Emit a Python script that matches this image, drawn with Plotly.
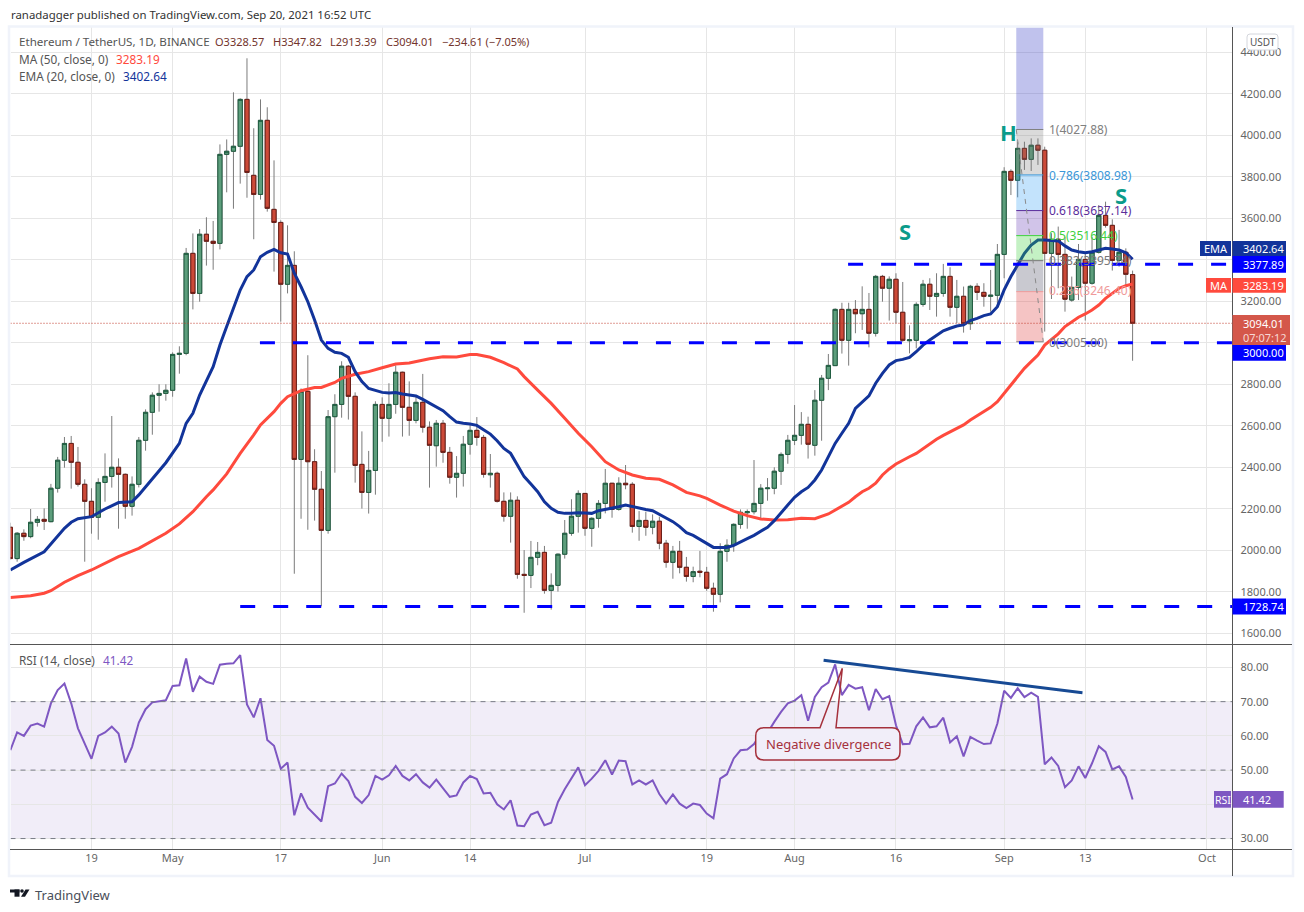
import pandas as pd
import plotly.graph_objects as go

W, H = 1304, 912
FONT = "Noto Sans"

# daily candles, Apr 7 -> Sep 20 2021
START = "2021-04-07"
opens = [2111, 1960, 2082, 2066, 2135, 2149, 2138, 2299, 2434, 2515,
         2424, 2318, 2236, 2159, 2327, 2356, 2400, 2366, 2212, 2318,
         2530, 2665, 2747, 2756, 2771, 2944, 2949, 3431, 3238, 3523,
         3489, 3479, 3908, 3923, 3947, 4173, 3807, 3715, 4072, 3643,
         3580, 3282, 3373, 2438, 2766, 2427, 2294, 2096, 2644, 2703,
         2887, 2742, 2414, 2279, 2385, 2703, 2636, 2703, 2858, 2689,
         2626, 2713, 2593, 2504, 2612, 2472, 2352, 2371, 2511, 2578,
         2544, 2364, 2371, 2236, 2164, 2241, 1884, 1879, 1966, 1990,
         1807, 1831, 1981, 2082, 2164, 2274, 2106, 2154, 2226, 2323,
         2197, 2323, 2318, 2115, 2144, 2111, 2140, 2034, 1942, 1995,
         1918, 1874, 1899, 1894, 1817, 1788, 1995, 2024, 2125, 2181,
         2186, 2226, 2297, 2299, 2381, 2462, 2530, 2554, 2607, 2506,
         2723, 2829, 2890, 3161, 3012, 3161, 3140, 3161, 3046, 3320,
         3263, 3306, 3147, 3010, 3012, 3185, 3282, 3224, 3238, 3320,
         3171, 3224, 3092, 3272, 3243, 3224, 3229, 3426, 3826, 3783,
         3937, 3884, 3952, 3928, 3431, 3499, 3426, 3206, 3267, 3402,
         3287, 3436, 3614, 3566, 3397, 3436, 3328.57]
highs = [2133, 2088, 2101, 2199, 2165, 2202, 2320, 2450, 2546, 2551,
         2498, 2342, 2299, 2347, 2467, 2647, 2443, 2370, 2356, 2546,
         2679, 2761, 2800, 2800, 2954, 2983, 3457, 3527, 3548, 3605,
         3587, 3956, 3980, 4207, 4178, 4371, 4034, 4173, 4135, 3879,
         3590, 3566, 3441, 2780, 2940, 2487, 2382, 2676, 2752, 2911,
         2893, 2761, 2573, 2479, 2718, 2737, 2805, 2891, 2861, 2814,
         2747, 2850, 2621, 2628, 2628, 2498, 2454, 2551, 2612, 2642,
         2556, 2464, 2379, 2279, 2279, 2260, 2001, 2045, 2040, 2021,
         1889, 1985, 2146, 2246, 2289, 2276, 2159, 2242, 2392, 2325,
         2352, 2411, 2328, 2189, 2186, 2173, 2162, 2050, 2021, 2045,
         1968, 1921, 1997, 1920, 1844, 2034, 2053, 2130, 2197, 2197,
         2435, 2319, 2348, 2400, 2472, 2556, 2700, 2666, 2644, 2772,
         2845, 2946, 3166, 3193, 3193, 3206, 3272, 3240, 3327, 3327,
         3320, 3335, 3293, 3084, 3195, 3303, 3311, 3335, 3380, 3364,
         3303, 3271, 3279, 3287, 3287, 3351, 3476, 3846, 3836, 3969,
         3969, 3985, 3985, 3945, 3528, 3560, 3511, 3319, 3476, 3431,
         3511, 3664, 3680, 3595, 3544, 3455, 3347.82]
lows = [1955, 1945, 2046, 2058, 2114, 2098, 2135, 2278, 2398, 2297,
        2307, 1945, 2080, 2051, 2234, 2302, 2104, 2152, 2167, 2303,
        2480, 2557, 2668, 2721, 2740, 2851, 2940, 3161, 3198, 3372,
        3352, 3450, 3725, 3646, 3767, 3699, 3499, 3690, 3632, 3343,
        3102, 3238, 1887, 2152, 2099, 2143, 1730, 2080, 2374, 2639,
        2630, 2326, 2201, 2177, 2268, 2523, 2548, 2658, 2548, 2552,
        2612, 2567, 2302, 2403, 2422, 2321, 2254, 2307, 2461, 2504,
        2350, 2302, 2230, 2138, 2037, 1863, 1699, 1818, 1928, 1791,
        1714, 1801, 1960, 2070, 2085, 2070, 2017, 2109, 2178, 2157,
        2191, 2294, 2085, 2046, 2070, 2077, 2005, 1916, 1863, 1889,
        1849, 1846, 1870, 1805, 1704, 1749, 1945, 1993, 2104, 2104,
        2173, 2149, 2239, 2270, 2315, 2417, 2507, 2509, 2442, 2456,
        2528, 2772, 2888, 2948, 2890, 3046, 3062, 2978, 3030, 3198,
        3107, 3094, 3005, 2949, 2973, 3174, 3158, 3126, 3222, 3126,
        3094, 3049, 3062, 3206, 3174, 3150, 3190, 3311, 3712, 3701,
        3833, 3828, 3857, 3054, 3211, 3263, 3150, 3198, 3206, 3107,
        3280, 3430, 3555, 3348, 3367, 3274, 2913.39]
closes = [1960, 2082, 2066, 2135, 2149, 2140, 2299, 2434, 2515, 2424,
          2318, 2236, 2159, 2327, 2356, 2400, 2366, 2212, 2318, 2530,
          2665, 2747, 2756, 2771, 2944, 2949, 3431, 3238, 3523, 3489,
          3479, 3908, 3923, 3947, 4173, 3821, 3715, 4072, 3648, 3580,
          3282, 3373, 2438, 2766, 2427, 2294, 2096, 2644, 2703, 2887,
          2742, 2409, 2279, 2385, 2703, 2636, 2703, 2858, 2689, 2626,
          2713, 2593, 2506, 2612, 2472, 2352, 2371, 2511, 2578, 2544,
          2366, 2371, 2236, 2164, 2241, 1884, 1879, 1966, 1990, 1807,
          1831, 1981, 2082, 2164, 2274, 2106, 2154, 2226, 2323, 2197,
          2323, 2316, 2115, 2144, 2111, 2140, 2034, 1942, 1995, 1918,
          1874, 1897, 1894, 1817, 1788, 1995, 2024, 2125, 2183, 2186,
          2226, 2299, 2300, 2381, 2462, 2530, 2554, 2607, 2511, 2723,
          2829, 2891, 3161, 3012, 3161, 3140, 3161, 3046, 3320, 3263,
          3306, 3147, 3012, 3014, 3185, 3282, 3224, 3238, 3320, 3171,
          3224, 3092, 3272, 3243, 3224, 3229, 3426, 3826, 3783, 3937,
          3884, 3952, 3928, 3431, 3499, 3426, 3210, 3267, 3402, 3287,
          3436, 3614, 3566, 3397, 3436, 3330, 3094.01]

# indicator readings, keyed by candle number (1 = first candle)
ema_idx = [1, 3, 6, 8, 9, 10, 11, 13, 15, 17, 19, 20, 22, 24, 26, 27, 28, 29, 31, 32,
           33, 35, 36, 37, 38, 39, 40, 41, 42, 43, 44, 45, 46, 47, 48, 49, 50, 51, 52, 53,
           54, 55, 56, 57, 58, 59, 60, 61, 62, 63, 65, 66, 67, 68, 69, 70, 71, 72, 73, 74,
           75, 76, 77, 78, 79, 80, 81, 82, 83, 84, 85, 86, 87, 88, 89, 90, 91, 92, 93, 94,
           95, 96, 97, 98, 99, 100, 101, 102, 103, 104, 105, 106, 107, 108, 109, 110, 111, 112, 113, 114,
           115, 116, 117, 118, 119, 120, 121, 122, 123, 124, 125, 126, 127, 128, 129, 130, 131, 132, 133, 134,
           135, 136, 137, 138, 139, 140, 141, 142, 143, 144, 145, 146, 147, 148, 149, 150, 151, 152, 153, 154,
           155, 156, 157, 158, 159, 160, 161, 162, 163, 164, 165, 166, 167]
ema20 = [1905, 1942, 1993, 2066, 2106, 2135, 2152, 2162, 2199, 2230, 2234, 2267, 2347, 2422, 2515, 2612, 2660, 2748, 2885, 2989,
         3078, 3254, 3319, 3351, 3415, 3436, 3450, 3434, 3428, 3335, 3270, 3198, 3110, 3013, 2973, 2954, 2949, 2930, 2861, 2813,
         2780, 2772, 2761, 2758, 2760, 2753, 2748, 2744, 2727, 2708, 2673, 2644, 2618, 2612, 2609, 2602, 2580, 2560, 2528, 2491,
         2467, 2411, 2355, 2319, 2282, 2234, 2202, 2183, 2178, 2178, 2181, 2180, 2178, 2191, 2197, 2201, 2210, 2218, 2210, 2204,
         2197, 2191, 2173, 2154, 2138, 2114, 2085, 2072, 2054, 2034, 2014, 2013, 2014, 2024, 2042, 2056, 2072, 2090, 2111, 2143,
         2178, 2218, 2255, 2282, 2303, 2339, 2387, 2451, 2515, 2564, 2612, 2684, 2716, 2744, 2805, 2853, 2893, 2914, 2920, 2930,
         2957, 2989, 3013, 3037, 3058, 3070, 3081, 3086, 3107, 3118, 3131, 3139, 3174, 3255, 3319, 3375, 3431, 3471, 3495, 3495,
         3492, 3491, 3467, 3447, 3439, 3434, 3439, 3447, 3455, 3452, 3447, 3434, 3402.64]

ma_idx = [1, 4, 6, 7, 9, 11, 13, 15, 17, 20, 22, 24, 26, 28, 30, 31, 33, 35, 37, 38,
          40, 41, 42, 44, 46, 47, 49, 50, 52, 53, 54, 56, 58, 60, 62, 63, 65, 67, 69, 70,
          72, 74, 76, 77, 79, 81, 83, 85, 87, 89, 91, 93, 95, 97, 99, 101, 103, 104, 106, 108,
          110, 112, 114, 116, 118, 120, 122, 123, 124, 125, 126, 127, 128, 129, 130, 131, 132, 133, 134, 135,
          136, 137, 138, 139, 140, 141, 142, 143, 144, 145, 146, 147, 148, 149, 150, 151, 152, 153, 154, 155,
          156, 157, 158, 159, 160, 161, 162, 163, 164, 165, 166, 167]
ma50 = [1772, 1781, 1793, 1805, 1846, 1878, 1905, 1937, 1969, 2009, 2046, 2082, 2127, 2186, 2258, 2291, 2368, 2467, 2556, 2604,
        2668, 2708, 2740, 2769, 2784, 2785, 2809, 2829, 2848, 2853, 2861, 2880, 2898, 2903, 2917, 2923, 2933, 2931, 2943, 2943,
        2930, 2904, 2874, 2837, 2772, 2708, 2636, 2564, 2499, 2427, 2387, 2363, 2347, 2342, 2315, 2279, 2262, 2250, 2218, 2189,
        2167, 2151, 2146, 2147, 2154, 2152, 2175, 2194, 2213, 2231, 2258, 2282, 2299, 2323, 2363, 2392, 2416, 2435, 2451, 2467,
        2491, 2512, 2535, 2554, 2572, 2588, 2604, 2628, 2647, 2668, 2689, 2716, 2756, 2792, 2837, 2877, 2909, 2941, 2989, 3017,
        3043, 3078, 3100, 3123, 3139, 3158, 3182, 3214, 3238, 3263, 3275, 3283.19]

rsi = [55.8, 61, 60, 63, 63.6, 62.7, 69.5, 73.4, 75.3, 69.5,
       62.2, 57.8, 53.3, 60, 61, 62.7, 60.7, 52.2, 56.8, 63.9,
       67.8, 69.8, 70, 70.4, 74.6, 74.8, 82.6, 72.9, 77.3, 75.8,
       75.2, 80.8, 81.1, 81.2, 83.6, 69.2, 65.4, 71, 58.8, 57.1,
       50.4, 52.2, 36.8, 43.2, 39, 37, 35, 45.3, 46.1, 49,
       46.8, 42.2, 40.4, 42.7, 48.3, 47.2, 48.5, 51.2, 48.3, 47,
       48.8, 46.4, 44.9, 47.2, 44.6, 42.2, 42.6, 46.4, 48.3, 47.4,
       43.2, 43.4, 40, 38.5, 41.2, 33.8, 33.6, 37, 37.8, 33.9,
       34.6, 40.7, 44.4, 47.5, 50.8, 45.6, 47.5, 49.8, 52.9, 48.7,
       52.8, 52.6, 45.8, 47, 45.8, 47, 43, 40.2, 42.9, 40.2,
       38.9, 40.2, 39.8, 37.3, 35.9, 47.5, 48.8, 53.4, 55.8, 56,
       57.6, 60.7, 60.9, 64.1, 67, 69.5, 70.3, 71.9, 64.4, 71.4,
       74.2, 75.6, 80.9, 71.9, 74.9, 73.8, 74.2, 67.5, 73.7, 70.7,
       71.6, 63.1, 57.6, 57.7, 62.8, 65.4, 62.5, 62.8, 65.3, 58.1,
       59.9, 54, 59.7, 58.6, 57.6, 57.8, 63.6, 73.2, 71.1, 73.9,
       71.3, 72.6, 71.4, 51.7, 53.7, 51.2, 45, 47, 51.1, 47.7,
       52, 57, 55.3, 50.2, 51.1, 48, 41.42]

price_ticks = [1600, 1800, 2000, 2200, 2400, 2600, 2800, 3000, 3200, 3400, 3600, 3800, 4000, 4200, 4400]
# 3000 and 3400 sit under the price tags, so they keep the gridline but no text
price_labels = ["1600.00", "1800.00", "2000.00", "2200.00", "2400.00", "2600.00", "2800.00", "",
                "3200.00", "", "3600.00", "3800.00", "4000.00", "4200.00", "4400.00"]
rsi_ticks = [30, 40, 50, 60, 70, 80]
rsi_labels = ["30.00", "", "50.00", "60.00", "70.00", "80.00"]
date_ticks = ["2021-04-19", "2021-05-01", "2021-05-17", "2021-06-01", "2021-06-14", "2021-07-01",
              "2021-07-19", "2021-08-01", "2021-08-16", "2021-09-01", "2021-09-13", "2021-10-01"]
date_labels = ["19", "May", "17", "Jun", "14", "Jul", "19", "Aug", "16", "Sep", "13", "Oct"]

fib_levels = [4027.88, 3808.98, 3637.14, 3516.44, 3395.74, 3246.40, 3005.00]
fib_names = ["1", "0.786", "0.618", "0.5", "0.382", "0.236", "0"]
fib_fills = ["rgba(120,120,120,.27)", "rgba(33,150,243,.27)", "rgba(103,58,183,.30)", "rgba(60,210,60,.30)",
             "rgba(100,100,120,.35)", "rgba(225,70,70,.32)"]
fib_lines = ["#808080", "#3a96d8", "#5b2d9b", "#3fcf3f", "#777777", "#ef9a9a", "#808080"]
fib_label_y = [129, 175, 210, 235, 261, 291, 342]

assert len(opens) == len(highs) == len(lows) == len(closes) == len(rsi) == 167
assert len(ema_idx) == len(ema20) and len(ma_idx) == len(ma50)

dates = pd.date_range(START, periods=len(closes))
X0, X1 = "2021-04-07 00:30", "2021-10-04 18:40"
GREEN, GREEN_DK = "#5d9e7c", "#1f5c40"
RED, RED_DK = "#cc4a38", "#6b1d16"
WICK = "#7b7b7b"
TAG_BLUE = "#0000ff"
TEXT_SIZE = 11.8


def px(x):
    return x / W


def py(y):
    return 1 - y / H


fig = go.Figure()

# wicks first (grey), then the bodies on top with their dark outline
fig.add_trace(go.Candlestick(
    x=dates, open=opens, high=highs, low=lows, close=closes,
    whiskerwidth=0,
    increasing=dict(line=dict(color=WICK, width=1), fillcolor=WICK),
    decreasing=dict(line=dict(color=WICK, width=1), fillcolor=WICK),
    hoverinfo="skip", showlegend=False,
))
fig.add_trace(go.Candlestick(
    x=dates, open=opens, close=closes,
    high=[max(o, c) for o, c in zip(opens, closes)],
    low=[min(o, c) for o, c in zip(opens, closes)],
    whiskerwidth=0,
    increasing=dict(line=dict(color=GREEN_DK, width=1), fillcolor=GREEN),
    decreasing=dict(line=dict(color=RED_DK, width=1), fillcolor=RED),
    hoverinfo="skip", showlegend=False,
))
fig.add_trace(go.Scatter(x=dates[[i - 1 for i in ma_idx]], y=ma50, mode="lines",
                         line=dict(color="#ff4a3d", width=3), hoverinfo="skip", showlegend=False))
fig.add_trace(go.Scatter(x=dates[[i - 1 for i in ema_idx]], y=ema20, mode="lines",
                         line=dict(color="#12349a", width=3), hoverinfo="skip", showlegend=False))
fig.add_trace(go.Scatter(x=dates, y=rsi, mode="lines", xaxis="x2", yaxis="y2",
                         line=dict(color="#7e57c2", width=2), hoverinfo="skip", showlegend=False))

# --- fib box ---
FX0, FX1 = "2021-09-02 19:00", "2021-09-06 19:00"
fig.add_shape(type="rect", xref="x", yref="y", x0=FX0, x1=FX1, y0=fib_levels[0], y1=4521,
              fillcolor="rgba(63,69,200,.33)", line=dict(width=0))
for i in range(len(fib_fills)):
    fig.add_shape(type="rect", xref="x", yref="y", x0=FX0, x1=FX1, y0=fib_levels[i + 1], y1=fib_levels[i],
                  fillcolor=fib_fills[i], line=dict(width=0))
for lvl, col in zip(fib_levels, fib_lines):
    fig.add_shape(type="line", xref="x", yref="y", x0=FX0, x1=FX1, y0=lvl, y1=lvl, line=dict(color=col, width=1))
fig.add_shape(type="line", xref="x", yref="y", x0=FX0, x1=FX1, y0=fib_levels[0], y1=fib_levels[-1],
              line=dict(color="#8a8a8a", width=1, dash="5px,5px"))

# --- horizontal levels ---
fig.add_shape(type="line", xref="x", yref="y", x0="2021-05-13 22:00", x1=X1, y0=3000, y1=3000,
              line=dict(color=TAG_BLUE, width=3, dash="15px,18px"))
fig.add_shape(type="line", xref="x", yref="y", x0="2021-05-11", x1=X1, y0=1728.74, y1=1728.74,
              line=dict(color=TAG_BLUE, width=3, dash="15px,18px"))
fig.add_shape(type="line", xref="x", yref="y", x0="2021-08-08 22:00", x1=X1, y0=3377.89, y1=3377.89,
              line=dict(color=TAG_BLUE, width=3, dash="15px,18px"))
fig.add_shape(type="line", xref="x", yref="y", x0=X0, x1=X1, y0=closes[-1], y1=closes[-1],
              line=dict(color="#c0392b", width=1, dash="1px,2px"))

# --- rsi pane ---
fig.add_shape(type="rect", xref="x2", yref="y2", x0=X0, x1=X1, y0=30, y1=70, layer="below",
              fillcolor="rgba(126,87,194,.11)", line=dict(width=0))
for lvl in [30, 50, 70]:
    fig.add_shape(type="line", xref="x2", yref="y2", x0=X0, x1=X1, y0=lvl, y1=lvl,
                  line=dict(color="#787b86", width=1, dash="5px,5px"))
fig.add_shape(type="line", xref="x2", yref="y2", x0="2021-08-05 07:00", x1="2021-09-12 14:00", y0=82.1, y1=72.6,
              line=dict(color="#174a94", width=3))

# callout, box is opaque but the pointer lets the rsi line through
fig.add_shape(type="path", xref="paper", yref="paper", line=dict(width=0), fillcolor="#f1eef9",
              path=f"M {px(764)} {py(727.7)} L {px(892)} {py(727.7)} Q {px(900)} {py(727.7)} {px(900)} {py(736)} "
                   f"L {px(900)} {py(752)} Q {px(900)} {py(760)} {px(892)} {py(760)} L {px(764)} {py(760)} "
                   f"Q {px(755.7)} {py(760)} {px(755.7)} {py(752)} L {px(755.7)} {py(736)} "
                   f"Q {px(755.7)} {py(727.7)} {px(764)} {py(727.7)} Z")
fig.add_shape(type="path", xref="paper", yref="paper", line=dict(color="#a5313c", width=1.5),
              path=f"M {px(764)} {py(727.7)} L {px(820)} {py(727.7)} L {px(842.3)} {py(668.3)} L {px(836)} {py(727.7)} "
                   f"L {px(892)} {py(727.7)} Q {px(900)} {py(727.7)} {px(900)} {py(736)} "
                   f"L {px(900)} {py(752)} Q {px(900)} {py(760)} {px(892)} {py(760)} L {px(764)} {py(760)} "
                   f"Q {px(755.7)} {py(760)} {px(755.7)} {py(752)} L {px(755.7)} {py(736)} "
                   f"Q {px(755.7)} {py(727.7)} {px(764)} {py(727.7)} Z")

# --- frame ---
fig.add_shape(type="rect", xref="paper", yref="paper", x0=px(9), x1=px(1293), y0=py(876), y1=py(26.5),
              line=dict(color="#f0f3fa", width=2.5))
fig.add_shape(type="line", xref="paper", yref="paper", x0=px(1232.5), x1=px(1232.5), y0=py(876), y1=py(27),
              line=dict(color="#555555", width=1))
for yy in [644.5, 849.5]:
    fig.add_shape(type="line", xref="paper", yref="paper", x0=px(10), x1=px(1292), y0=py(yy), y1=py(yy),
                  line=dict(color="#555555", width=1))


def box(x0, y0, x1, y1, color):
    fig.add_shape(type="rect", xref="paper", yref="paper", x0=px(x0), x1=px(x1), y0=py(y0), y1=py(y1),
                  fillcolor=color, line=dict(width=0))


def txt(x, y, s, color="#555555", size=TEXT_SIZE, anchor="left", family=FONT):
    fig.add_annotation(xref="paper", yref="paper", x=px(x), y=py(y), text=s, showarrow=False,
                       xanchor=anchor, yanchor="middle", font=dict(family=family, size=size, color=color),
                       borderpad=0)


def tag(y0, y1, s, color, x1=1286, fg="#ffffff"):
    box(1232.5, y0, x1, y1, color)
    txt(1241.5, (y0 + y1) / 2, s, fg, 11)


# price tags
EMA_C, MA_C = "#12349a", "#ff4a3d"
box(1200, 241, 1231, 256, EMA_C)
txt(1215.5, 248.5, "EMA", "#ffffff", 11, "center")
tag(241, 256, "3402.64", EMA_C)
tag(256, 272.7, "3377.89", TAG_BLUE)
box(1206, 278, 1231, 292.7, MA_C)
txt(1218.5, 285.5, "MA", "#ffffff", 11, "center")
tag(278, 292.7, "3283.19", MA_C)
box(1232.5, 315, 1290, 345, "#d4574a")
txt(1241.5, 323, "3094.01", "#ffffff", 11)
txt(1241.5, 337, "07:07:12", "#f7d9d5", 11)
tag(345, 360.7, "3000.00", TAG_BLUE)
tag(598.5, 614.5, "1728.74", TAG_BLUE)
box(1214, 791, 1231, 807.7, "#7e57c2")
txt(1222.5, 799.5, "RSI", "#ffffff", 10.5, "center")
tag(791, 807.7, "41.42", "#7e57c2", x1=1283.7)

# USDT badge
fig.add_shape(type="path", xref="paper", yref="paper", fillcolor="#ffffff", line=dict(color="#d4d6dc", width=1),
              path=f"M {px(1250)} {py(34)} L {px(1275)} {py(34)} Q {px(1278)} {py(34)} {px(1278)} {py(37)} "
                   f"L {px(1278)} {py(47)} Q {px(1278)} {py(50)} {px(1275)} {py(50)} L {px(1250)} {py(50)} "
                   f"Q {px(1247)} {py(50)} {px(1247)} {py(47)} L {px(1247)} {py(37)} Q {px(1247)} {py(34)} {px(1250)} {py(34)} Z")
txt(1262.5, 42, "USDT", "#555555", 10, "center")

# header
txt(10, 14.5, "ranadagger published on TradingView.com, Sep 20, 2021 16:52 UTC", "#333333", 11.4)
txt(18, 42, "Ethereum / TetherUS, 1D, BINANCE", "#555555", 11.6)
OHLC_C = "#73342c"
for xx, s in [(214, "O3328.57"), (272, "H3347.82"), (329, "L2913.39"), (385, "C3094.01"),
              (441, "\u2212234.61 (\u22127.05%)")]:
    txt(xx, 42, s, OHLC_C, 11)
txt(18, 59, "MA (50, close, 0)", "#555555")
txt(115, 59, "3283.19", MA_C)
txt(18, 76, "EMA (20, close, 0)", "#555555")
txt(122, 76, "3402.64", EMA_C)
txt(18, 660, "RSI (14, close)", "#555555")
txt(102, 660, "41.42", "#7e57c2")

# chart drawings
TEAL = "#0b9b8a"
txt(1008.5, 132, "<b>H</b>", TEAL, 22, "center")
txt(905, 230.5, "<b>S</b>", TEAL, 22, "center")
txt(1121, 195, "<b>S</b>", TEAL, 22, "center")
for name, lvl, col, yy in zip(fib_names, fib_levels, fib_lines, fib_label_y):
    txt(1048, yy, f"{name}({lvl:.2f})", col, 12)
txt(828, 743.5, "Negative divergence", "#a5313c", 13, "center")

# logo + footer
LOGO = "#131722"
box(10, 889.5, 19.5, 892.5, LOGO)
box(14.5, 889.5, 19.5, 896.7, LOGO)
fig.add_shape(type="circle", xref="paper", yref="paper", x0=px(20.2), x1=px(23.8), y0=py(892.8), y1=py(889.2),
              fillcolor=LOGO, line=dict(width=0))
fig.add_shape(type="path", xref="paper", yref="paper", fillcolor=LOGO, line=dict(width=0),
              path=f"M {px(21)} {py(896.7)} L {px(25.5)} {py(889.5)} L {px(29.5)} {py(889.5)} L {px(25)} {py(896.7)} Z")
txt(33.5, 895, "TradingView", "#4a4f5a", 13)

GRID = "#e6e6e6"
AXFONT = dict(family=FONT, size=11, color="#666666")
fig.update_layout(
    width=W, height=H,
    margin=dict(l=0, r=0, t=0, b=0),
    paper_bgcolor="white", plot_bgcolor="white",
    showlegend=False, boxgap=0.38, boxgroupgap=0, dragmode=False,
    xaxis=dict(domain=[px(10.5), px(1232.5)], range=[X0, X1], type="date", matches="x2",
               tickmode="array", tickvals=date_ticks, showticklabels=False, ticks="",
               showgrid=True, gridcolor=GRID, zeroline=False, rangeslider=dict(visible=False)),
    xaxis2=dict(domain=[px(10.5), px(1232.5)], range=[X0, X1], type="date", anchor="y2",
                tickmode="array", tickvals=date_ticks, ticktext=date_labels, ticks="", tickfont=AXFONT,
                showgrid=True, gridcolor=GRID, zeroline=False, rangeslider=dict(visible=False)),
    yaxis=dict(domain=[py(644.5), py(27)], range=[1546, 4521.8], side="right", anchor="x",
               tickmode="array", tickvals=price_ticks, ticktext=price_labels, ticks="", tickfont=AXFONT,
               ticklabelstandoff=7, gridcolor=GRID, zeroline=False),
    yaxis2=dict(domain=[py(849.5), py(644.5)], range=[26.8, 86.7], side="right", anchor="x2",
                tickmode="array", tickvals=rsi_ticks, ticktext=rsi_labels, ticks="", tickfont=AXFONT,
                ticklabelstandoff=7, gridcolor=GRID, zeroline=False),
)

fig.write_html("out.html", config=dict(displayModeBar=False), post_script="document.body.style.margin='0';")
